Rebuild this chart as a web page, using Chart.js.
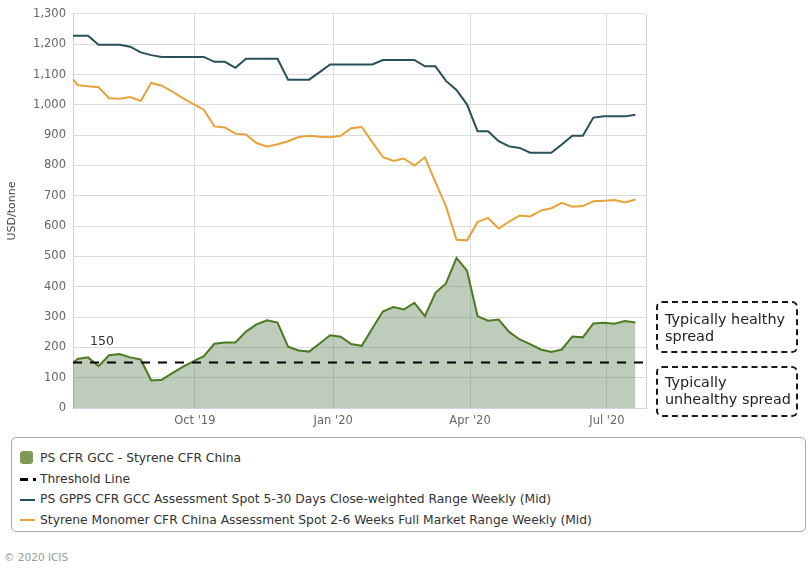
<!DOCTYPE html>
<html>
<head>
<meta charset="utf-8">
<script src="https://cdn.jsdelivr.net/npm/chart.js@4.4.1/dist/chart.umd.min.js"></script>
<style>
body{margin:0;background:#fff;font-family:"DejaVu Sans",sans-serif;}
#wrap{position:relative;width:808px;height:574px;overflow:hidden;}
#c{position:absolute;left:0;top:0;}
.note{position:absolute;left:656px;width:142px;box-sizing:border-box;border:2px dashed #1a1a1a;border-radius:6px;
  font-size:14.4px;line-height:16.5px;color:#222;padding-left:7px;white-space:nowrap;}
#legend{position:absolute;left:11px;top:437px;width:795px;height:95px;box-sizing:border-box;border:1px solid #a8a8a8;
  border-radius:5px;padding-top:10px;font-size:12.3px;color:#333;}
.row{height:20.7px;line-height:20.7px;position:relative;padding-left:28px;white-space:nowrap;}
.sym{position:absolute;left:8px;top:50%;}
#copy{position:absolute;left:4px;top:551px;font-size:10.5px;color:#999;}
</style>
</head>
<body>
<div id="wrap">
  <canvas id="c" width="808" height="432"></canvas>
  <div class="note" style="top:301px;height:52px;padding-top:8px;">Typically healthy<br>spread</div>
  <div class="note" style="top:366px;height:51px;padding-top:6px;">Typically<br>unhealthy spread</div>
  <div id="legend">
    <div class="row"><span class="sym" style="width:13px;height:13px;margin-top:-7px;background:#7f9a56;border-radius:3px;"></span>PS CFR GCC - Styrene CFR China</div>
    <div class="row"><span class="sym" style="width:8px;height:3px;margin-top:-1px;background:#000;"></span><span class="sym" style="left:21px;width:3px;height:3px;margin-top:-1px;background:#000;"></span>Threshold Line</div>
    <div class="row"><span class="sym" style="width:15px;height:2px;margin-top:-1px;background:#27505a;"></span>PS GPPS CFR GCC Assessment Spot 5-30 Days Close-weighted Range Weekly (Mid)</div>
    <div class="row"><span class="sym" style="width:15px;height:2px;margin-top:-1px;background:#e8a23a;"></span>Styrene Monomer CFR China Assessment Spot 2-6 Weeks Full Market Range Weekly (Mid)</div>
  </div>
  <div id="copy">© 2020 ICIS</div>
</div>
<script>
// ---- data ----
const axisStart = '2019-07-12';
const axisEnd = '2020-07-27';

const weekDates = ['2019-07-12','2019-07-15','2019-07-22','2019-07-29','2019-08-05','2019-08-12','2019-08-19','2019-08-26',
  '2019-09-02','2019-09-09','2019-09-16','2019-09-23','2019-09-30','2019-10-07','2019-10-14','2019-10-21','2019-10-28',
  '2019-11-04','2019-11-11','2019-11-18','2019-11-25','2019-12-02','2019-12-09','2019-12-16','2019-12-23','2019-12-30',
  '2020-01-06','2020-01-13','2020-01-20','2020-01-27','2020-02-03','2020-02-10','2020-02-17','2020-02-24',
  '2020-03-02','2020-03-09','2020-03-16','2020-03-23','2020-03-30','2020-04-06','2020-04-13','2020-04-20','2020-04-27',
  '2020-05-04','2020-05-11','2020-05-18','2020-05-25','2020-06-01','2020-06-08','2020-06-15','2020-06-22','2020-06-29',
  '2020-07-06','2020-07-13','2020-07-20'];

// PS CFR GCC - Styrene CFR China (spread)
const spread = [148,162,167,138,174,178,167,160,91,93,115,136,154,171,212,216,216,252,276,289,282,
  202,190,186,213,240,235,211,205,262,318,333,325,347,303,380,411,495,453,303,288,
  292,251,226,211,193,185,193,236,233,279,281,278,287,282];

// PS GPPS CFR GCC
const psGpps = [1228,1228,1228,1198,1198,1198,1192,1173,1164,1158,1158,1158,1158,1158,1142,1142,1122,1152,1152,1152,1152,
  1083,1083,1083,1108,1133,1133,1133,1133,1133,1148,1148,1148,1148,1127,1127,1079,1049,1001,913,913,
  880,863,858,842,842,842,869,898,898,958,962,962,962,967];

// Styrene Monomer CFR China
const styrene = [1085,1065,1061,1058,1022,1020,1026,1013,1072,1063,1044,1022,1002,984,929,925,905,902,874,862,870,
  880,894,898,895,893,898,923,927,877,828,815,823,800,827,745,665,555,553,613,627,
  592,615,635,632,651,659,677,664,666,682,684,686,678,688];

const threshold = 150;

const tickDates = ['2019-10-01','2020-01-01','2020-04-01','2020-07-01'];
const tickLabels = ["Oct '19","Jan '20","Apr '20","Jul '20"];

// ---- helpers ----
function dayOf(d){
    return (Date.parse(d) - Date.parse(axisStart)) / 864e5;
}
function pts(vals){
    return vals.map((v, i) => ({x: dayOf(weekDates[i]), y: v}));
}

const FONT = '"DejaVu Sans", sans-serif';

const extras = {
    id: 'extras',
    afterDatasetsDraw(chart){
        const {ctx, chartArea, scales} = chart;
        ctx.save();
        // threshold value label
        ctx.font = '12.5px ' + FONT;
        ctx.fillStyle = '#333';
        ctx.textBaseline = 'middle';
        ctx.fillText(String(threshold), chartArea.left + 17, scales.y.getPixelForValue(threshold) - 21);
        // right plot border
        ctx.strokeStyle = '#cfcfcf';
        ctx.lineWidth = 1;
        ctx.beginPath();
        ctx.moveTo(Math.round(chartArea.right) + 0.5, chartArea.top);
        ctx.lineTo(Math.round(chartArea.right) + 0.5, chartArea.bottom);
        ctx.stroke();
        ctx.restore();
    }
};

new Chart(document.getElementById('c').getContext('2d'), {
    type: 'line',
    data: {
        datasets: [
            {
                label: 'PS CFR GCC - Styrene CFR China',
                data: pts(spread),
                borderColor: '#4b7a20',
                backgroundColor: 'rgba(92,130,85,0.4)',
                fill: 'origin',
                borderWidth: 2,
                pointRadius: 0,
                tension: 0,
                order: 4
            },
            {
                label: 'Threshold Line',
                data: [{x: 0, y: threshold}, {x: dayOf(axisEnd), y: threshold}],
                borderColor: '#000',
                borderDash: [9, 8],
                borderWidth: 2,
                pointRadius: 0,
                fill: false,
                order: 1
            },
            {
                label: 'PS GPPS CFR GCC Assessment Spot 5-30 Days Close-weighted Range Weekly (Mid)',
                data: pts(psGpps),
                borderColor: '#27505a',
                borderWidth: 2,
                pointRadius: 0,
                fill: false,
                order: 2
            },
            {
                label: 'Styrene Monomer CFR China Assessment Spot 2-6 Weeks Full Market Range Weekly (Mid)',
                data: pts(styrene),
                borderColor: '#e8a23a',
                borderWidth: 2,
                pointRadius: 0,
                fill: false,
                order: 3
            }
        ]
    },
    options: {
        responsive: false,
        animation: false,
        layout: { padding: { top: 13, right: 162, left: 0, bottom: 0 } },
        plugins: {
            legend: { display: false },
            tooltip: { enabled: false }
        },
        scales: {
            x: {
                type: 'linear',
                min: 0,
                max: dayOf(axisEnd),
                afterBuildTicks: s => { s.ticks = tickDates.map(d => ({value: dayOf(d)})); },
                afterFit: s => { s.height = 24; },
                ticks: {
                    callback: (v, i) => tickLabels[i],
                    color: '#666',
                    font: { family: FONT, size: 11.5 },
                    padding: 6,
                    maxRotation: 0,
                    autoSkip: false
                },
                grid: { color: '#dcdcdc', drawTicks: false },
                border: { color: '#ccd6eb' }
            },
            y: {
                min: 0,
                max: 1300,
                afterFit: s => { s.width = 73; },
                ticks: {
                    stepSize: 100,
                    color: '#666',
                    font: { family: FONT, size: 11.5 },
                    padding: 7,
                    callback: v => v.toLocaleString('en-US')
                },
                grid: { color: '#dcdcdc', drawTicks: false },
                border: { color: '#cfcfcf' },
                title: {
                    display: true,
                    text: 'USD/tonne',
                    color: '#444',
                    font: { family: FONT, size: 11 },
                    padding: { top: 6, bottom: 0 }
                }
            }
        }
    },
    plugins: [extras]
});
</script>
</body>
</html>
